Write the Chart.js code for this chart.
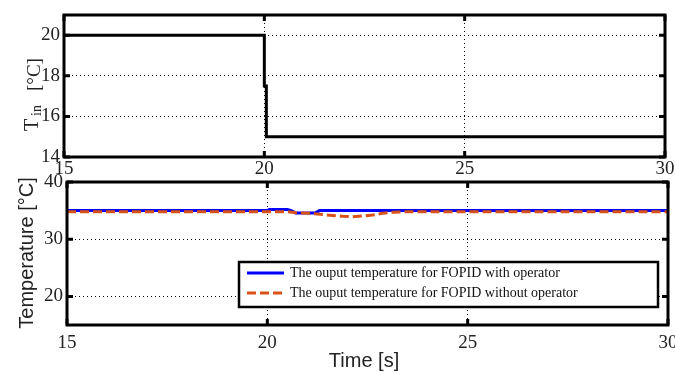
<!DOCTYPE html>
<html><head><meta charset="utf-8">
<script src="https://cdn.jsdelivr.net/npm/chart.js@4"></script>
<style>
html,body{margin:0;padding:0;background:#fff;width:675px;height:372px;overflow:hidden}
#c1{position:absolute;left:0;top:0}
#c2{position:absolute;left:0;top:165px}
</style></head><body>
<canvas id="c1" width="675" height="185"></canvas>
<canvas id="c2" width="675" height="207"></canvas>
<script>
// ---- data ----
const xTicks = [15, 20, 25, 30];
const tinTime   = [15, 20, 20, 20.05, 20.05, 30];
const tinValues = [20, 20, 17.5, 17.5, 15, 15];
const tinYTicks = [14, 16, 18, 20];

const withOpTime   = [15, 20.0, 20.05, 20.5, 20.6, 20.7, 21.2, 21.3, 30];
const withOpValues = [35.0, 35.0, 35.2, 35.2, 35.0, 34.6, 34.6, 35.0, 35.0];
const withoutOpTime   = [15, 20.5, 20.73, 21.06, 21.31, 21.56, 21.88, 22.13, 22.38, 22.63, 22.88, 23.13, 23.48, 30];
const withoutOpValues = [34.8, 34.8, 34.63, 34.53, 34.35, 34.18, 34.0, 33.93, 34.06, 34.23, 34.53, 34.7, 34.8, 34.8];
const tempYTicks = [20, 30, 40];
const seriesLabels = ['The ouput temperature for FOPID with operator', 'The ouput temperature for FOPID without operator'];

const pts = (xs, ys) => xs.map((x, i) => ({x, y: ys[i]}));
const SERIF = '"Liberation Serif", "Times New Roman", serif';
const SANS = '"Liberation Sans", Arial, sans-serif';

function scaleCfg(min, max, tickList, fitProp, fitVal, pad) {
  return {
    type: 'linear', min, max,
    afterBuildTicks: s => { s.ticks = tickList.map(v => ({value: v})); },
    afterFit: s => { s[fitProp] = fitVal; s.paddingLeft = 0; s.paddingRight = 0; s.paddingTop = 0; s.paddingBottom = 0; },
    grid: {color: '#000', lineWidth: 1, drawTicks: false},
    border: {display: false, dash: [1, 3]},
    ticks: {padding: pad, font: {family: SERIF, size: 19}, color: '#222', maxRotation: 0, autoSkip: false}
  };
}

const framePlugin = {
  id: 'frame',
  afterDatasetsDraw(chart) {
    const {ctx, chartArea: a, scales} = chart;
    ctx.save();
    ctx.strokeStyle = '#000';
    ctx.lineWidth = 3;
    ctx.beginPath();
    scales.y.ticks.forEach(t => {
      const p = scales.y.getPixelForValue(t.value);
      ctx.moveTo(a.left, p); ctx.lineTo(a.left + 6, p);
      ctx.moveTo(a.right, p); ctx.lineTo(a.right - 6, p);
    });
    scales.x.ticks.forEach(t => {
      const p = scales.x.getPixelForValue(t.value);
      ctx.moveTo(p, a.bottom); ctx.lineTo(p, a.bottom - 6);
      ctx.moveTo(p, a.top); ctx.lineTo(p, a.top + 6);
    });
    ctx.stroke();
    ctx.strokeRect(a.left, a.top, a.right - a.left, a.bottom - a.top);
    ctx.restore();
  }
};

const topTitle = {
  id: 'topTitle',
  afterDraw(chart) {
    const ctx = chart.ctx;
    ctx.save();
    ctx.fillStyle = '#222';
    ctx.textAlign = 'left';
    ctx.textBaseline = 'alphabetic';
    const put = (txt, x, y, font) => {
      ctx.save(); ctx.translate(x, y); ctx.rotate(-Math.PI / 2);
      ctx.font = font; ctx.fillText(txt, 0, 0); ctx.restore();
    };
    put('T', 38, 131, '20px ' + SERIF);
    put('in', 41, 116, '14px ' + SERIF);
    put('[°C]', 40, 91, '19px ' + SERIF);
    ctx.restore();
  }
};

new Chart(document.getElementById('c1'), {
  type: 'scatter',
  data: {datasets: [{label: 'Tin', data: pts(tinTime, tinValues), showLine: true, borderColor: '#000', borderWidth: 3, pointRadius: 0, fill: false}]},
  options: {
    responsive: false, animation: false, devicePixelRatio: 1,
    layout: {padding: {left: 0, right: 10, top: 15, bottom: 0}},
    plugins: {legend: {display: false}, tooltip: {enabled: false}},
    scales: {
      x: scaleCfg(15, 30, xTicks, 'height', 28, 1),
      y: scaleCfg(14, 21, tinYTicks, 'width', 64, 4)
    }
  },
  plugins: [framePlugin, topTitle]
});

const bottomDecor = {
  id: 'bottomDecor',
  afterDraw(chart) {
    const ctx = chart.ctx;
    ctx.save();
    // axis titles
    ctx.fillStyle = '#222';
    ctx.font = '20px ' + SANS;
    ctx.textAlign = 'center';
    ctx.textBaseline = 'alphabetic';
    ctx.save(); ctx.translate(33, 88); ctx.rotate(-Math.PI / 2); ctx.fillText('Temperature [°C]', 0, 0); ctx.restore();
    ctx.textBaseline = 'middle';
    ctx.fillText('Time [s]', 364, 196);
    // legend
    const bx = 239, by = 97, bw = 419, bh = 45;
    ctx.fillStyle = '#fff';
    ctx.fillRect(bx, by, bw, bh);
    ctx.strokeStyle = '#000'; ctx.lineWidth = 2.5;
    ctx.strokeRect(bx, by, bw, bh);
    const ds = chart.data.datasets;
    const rows = [108, 128];
    ds.forEach((d, i) => {
      ctx.beginPath();
      ctx.strokeStyle = d.borderColor; ctx.lineWidth = d.borderWidth;
      ctx.setLineDash(d.borderDash || []);
      ctx.moveTo(247, rows[i]); ctx.lineTo(284, rows[i]); ctx.stroke();
      ctx.setLineDash([]);
      ctx.fillStyle = '#111';
      ctx.font = '14px ' + SERIF;
      ctx.textAlign = 'left'; ctx.textBaseline = 'middle';
      ctx.fillText(d.label, 290, rows[i]);
    });
    ctx.restore();
  }
};

new Chart(document.getElementById('c2'), {
  type: 'scatter',
  data: {datasets: [
    {label: seriesLabels[0], data: pts(withOpTime, withOpValues), showLine: true, borderColor: '#0000FF', borderWidth: 3, pointRadius: 0, fill: false, order: 1},
    {label: seriesLabels[1], data: pts(withoutOpTime, withoutOpValues), showLine: true, borderColor: '#D95319', borderWidth: 3, borderDash: [9, 4], pointRadius: 0, fill: false, order: 0}
  ]},
  options: {
    responsive: false, animation: false, devicePixelRatio: 1,
    layout: {padding: {left: 0, right: 7, top: 17, bottom: 0}},
    plugins: {legend: {display: false}, tooltip: {enabled: false}},
    scales: {
      x: scaleCfg(15, 30, xTicks, 'height', 47, 7),
      y: scaleCfg(15, 40, tempYTicks, 'width', 67, 4)
    }
  },
  plugins: [framePlugin, bottomDecor]
});
</script>
</body></html>
